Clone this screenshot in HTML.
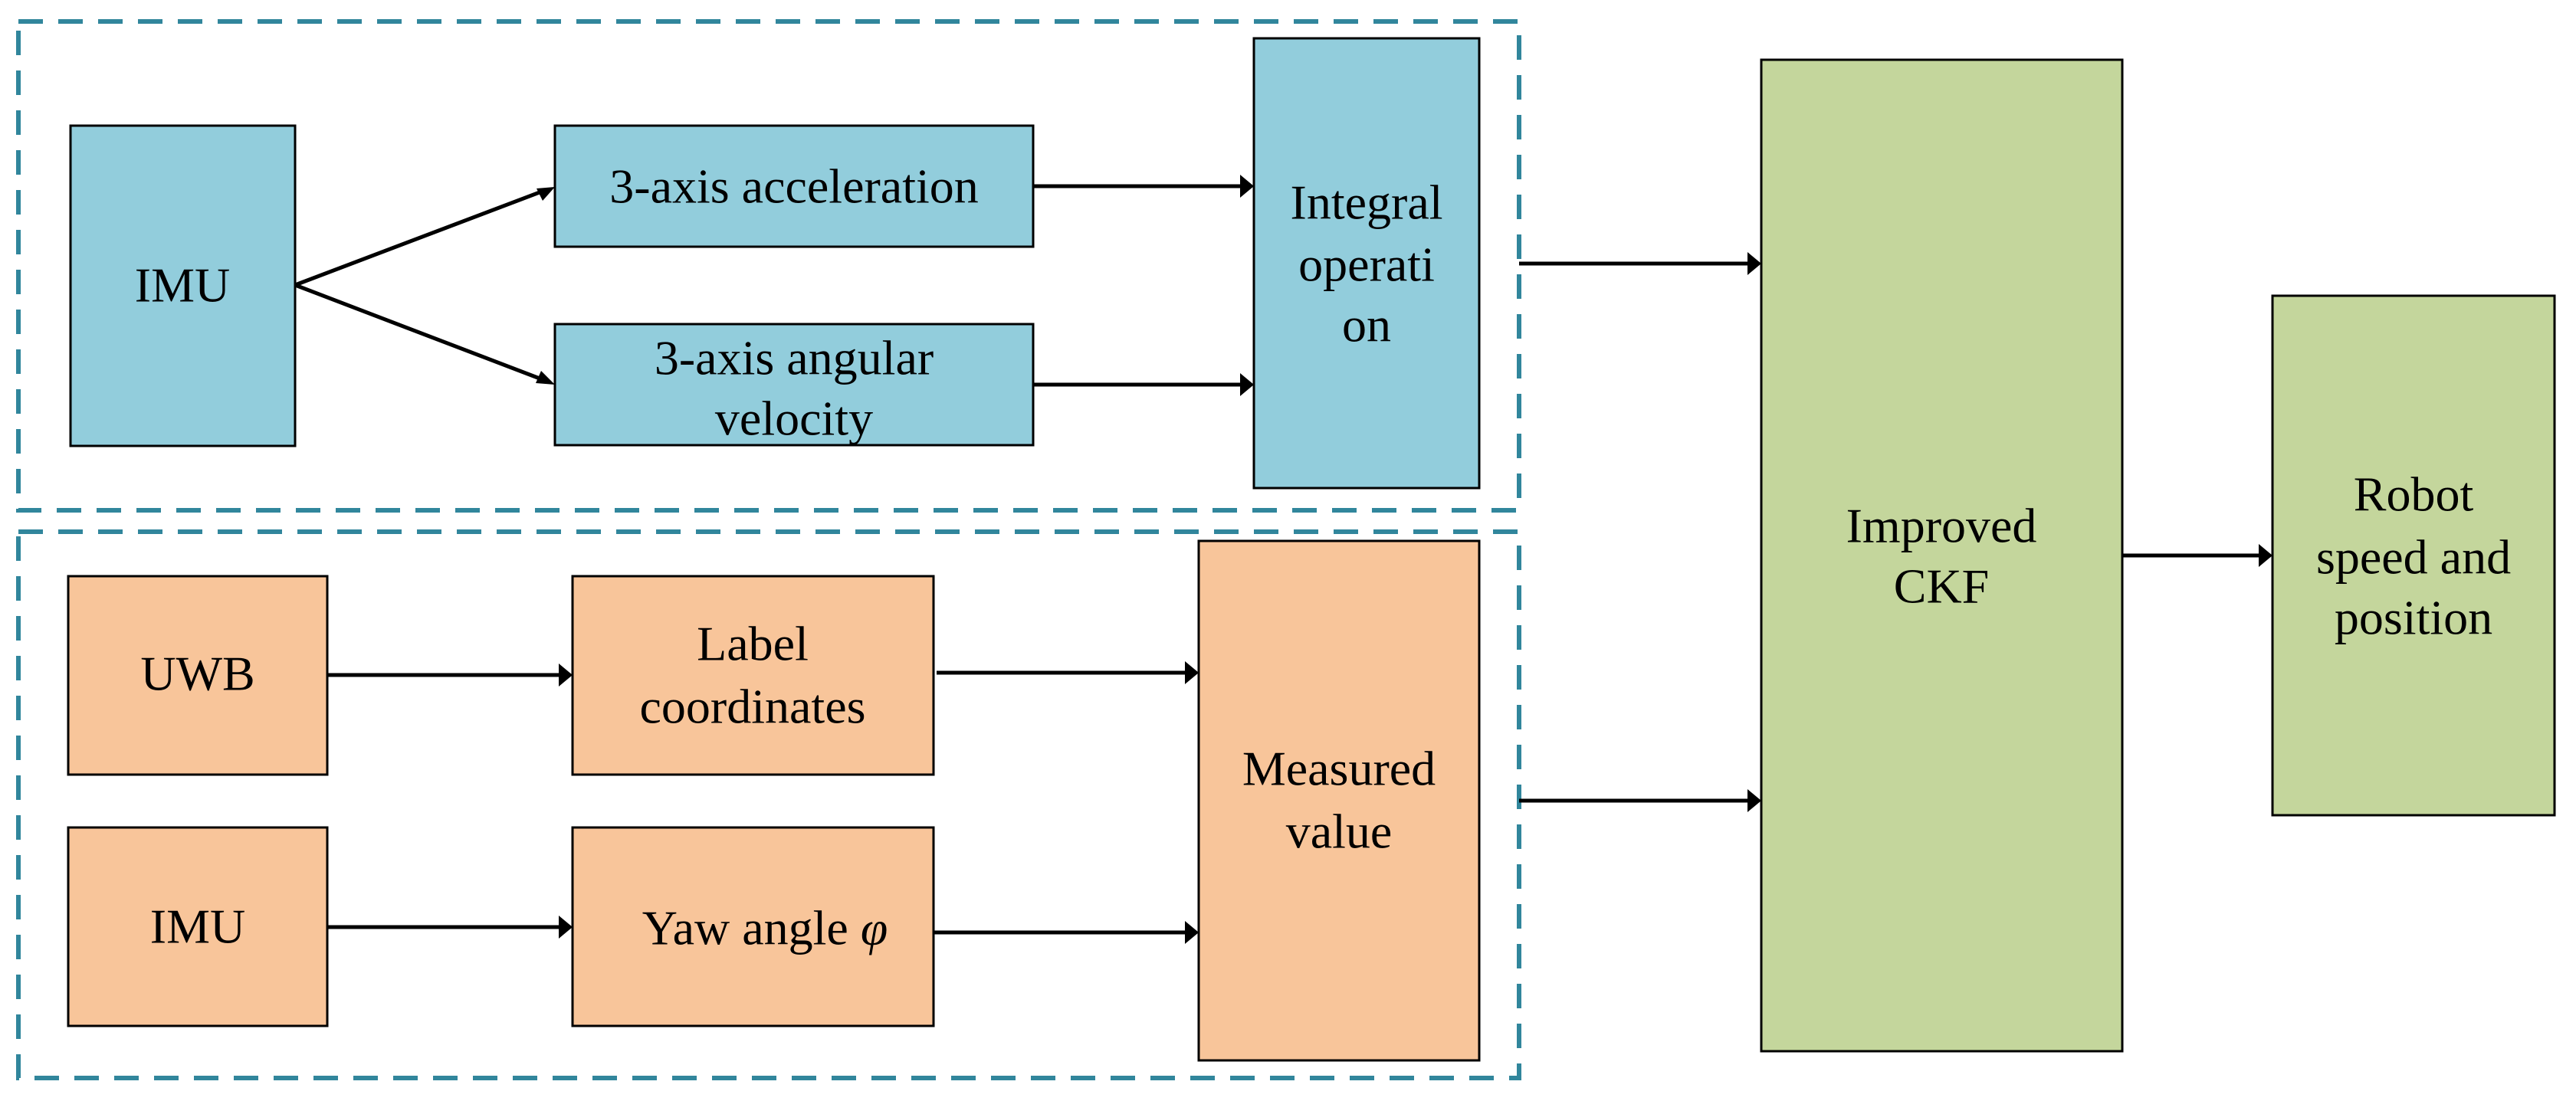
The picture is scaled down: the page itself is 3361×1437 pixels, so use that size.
<!DOCTYPE html>
<html><head><meta charset="utf-8"><style>html,body{margin:0;padding:0;background:#fff;}svg{display:block;}</style></head>
<body>
<svg width="3361" height="1437" viewBox="0 0 3361 1437" xmlns="http://www.w3.org/2000/svg" font-family="'Liberation Serif', serif" font-size="64" text-anchor="middle">
<g fill="none" stroke="#31869c" stroke-width="6" stroke-dasharray="32 20">
<rect x="24" y="28" width="1958" height="638"/>
<rect x="24" y="694" width="1958" height="713"/>
</g>
<g stroke="#000" stroke-width="3">
<rect x="92" y="164" width="293" height="418" fill="#92cddc"/>
<rect x="724" y="164" width="624" height="158" fill="#92cddc"/>
<rect x="724" y="423" width="624" height="158" fill="#92cddc"/>
<rect x="1636" y="50" width="294" height="587" fill="#92cddc"/>
<rect x="89" y="752" width="338" height="259" fill="#f8c59a"/>
<rect x="747" y="752" width="471" height="259" fill="#f8c59a"/>
<rect x="89" y="1080" width="338" height="259" fill="#f8c59a"/>
<rect x="747" y="1080" width="471" height="259" fill="#f8c59a"/>
<rect x="1564" y="706" width="366" height="678" fill="#f8c59a"/>
<rect x="2298" y="78" width="471" height="1294" fill="#c4d69c"/>
<rect x="2965" y="386" width="368" height="678" fill="#c4d69c"/>
</g>
<g stroke="#000" stroke-width="5">
<line x1="385" y1="372" x2="712" y2="248"/>
<line x1="385" y1="372" x2="712" y2="497"/>
<line x1="1348" y1="243" x2="1622" y2="243"/>
<line x1="1348" y1="502" x2="1622" y2="502"/>
<line x1="1982" y1="344" x2="2284" y2="344"/>
<line x1="1982" y1="1045" x2="2284" y2="1045"/>
<line x1="427" y1="881" x2="733" y2="881"/>
<line x1="1222" y1="878" x2="1550" y2="878"/>
<line x1="427" y1="1210" x2="733" y2="1210"/>
<line x1="1218" y1="1217" x2="1550" y2="1217"/>
<line x1="2769" y1="725" x2="2951" y2="725"/>
</g>
<g fill="#000">
<polygon points="724,244 700,246 708,262"/>
<polygon points="724,502 706,484 699,500"/>
<polygon points="1636,243 1618,228 1618,258"/>
<polygon points="1636,502 1618,487 1618,517"/>
<polygon points="2298,344 2280,329 2280,359"/>
<polygon points="2298,1045 2280,1030 2280,1060"/>
<polygon points="747,881 729,866 729,896"/>
<polygon points="1564,878 1546,863 1546,893"/>
<polygon points="747,1210 729,1195 729,1225"/>
<polygon points="1564,1217 1546,1202 1546,1232"/>
<polygon points="2965,725 2947,710 2947,740"/>
</g>
<g fill="#000" dominant-baseline="central">
<text x="238" y="372">IMU</text>
<text x="1036" y="243">3-axis acceleration</text>
<text x="1036" y="467">3-axis angular</text>
<text x="1036" y="546">velocity</text>
<text x="1783" y="264">Integral</text>
<text x="1783" y="345">operati</text>
<text x="1783" y="424">on</text>
<text x="258" y="879">UWB</text>
<text x="982" y="840">Label</text>
<text x="982" y="922">coordinates</text>
<text x="258" y="1209">IMU</text>
<text x="998" y="1211">Yaw angle <tspan font-style="italic">φ</tspan></text>
<text x="1747" y="1003">Measured</text>
<text x="1747" y="1085">value</text>
<text x="2533" y="686">Improved</text>
<text x="2533" y="765">CKF</text>
<text x="3149" y="645">Robot</text>
<text x="3149" y="727">speed and</text>
<text x="3149" y="806">position</text>
</g>
</svg>
</body></html>
